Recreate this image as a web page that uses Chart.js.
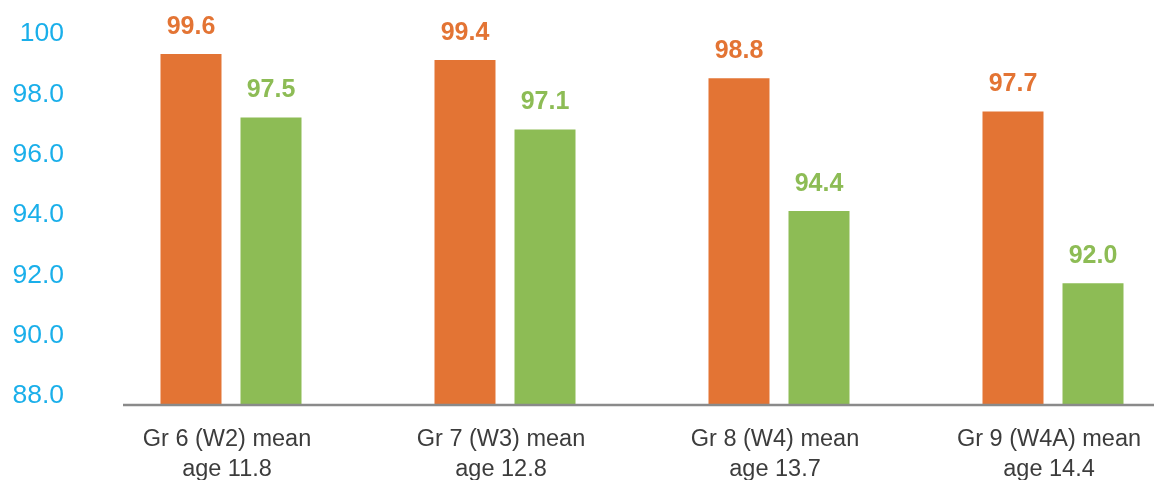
<!DOCTYPE html>
<html>
<head>
<meta charset="utf-8">
<script src="https://cdn.jsdelivr.net/npm/chart.js@4.4.1/dist/chart.umd.min.js"></script>
<style>
  html, body { margin: 0; padding: 0; background: #ffffff; overflow: hidden; }
  #frame { width: 1154px; height: 480px; overflow: hidden; position: relative; }
  #wrap { width: 1192px; height: 480px; position: absolute; left: 0; top: 0; }
</style>
</head>
<body>
<div id="frame"><div id="wrap"><canvas id="chart"></canvas></div></div>
<script>
// Grade groups (wave) with mean age
const categories = [
  ['Gr 6 (W2) mean', 'age 11.8'],
  ['Gr 7 (W3) mean', 'age 12.8'],
  ['Gr 8 (W4) mean', 'age 13.7'],
  ['Gr 9 (W4A) mean', 'age 14.4']
];
const seriesOrange = [99.6, 99.4, 98.8, 97.7];
const seriesGreen = [97.5, 97.1, 94.4, 92.0];
const yTicks = [88, 90, 92, 94, 96, 98, 100];

const ORANGE = '#E37434';
const GREEN = '#8DBC55';
const BLUE = '#1AAFEA';
const FONT = "'Liberation Sans', Arial, sans-serif";

// Value labels above every bar
const valueLabels = {
  id: 'valueLabels',
  afterDatasetsDraw(chart) {
    const ctx = chart.ctx;
    ctx.save();
    ctx.font = 'bold 25px ' + FONT;
    ctx.textAlign = 'center';
    ctx.textBaseline = 'alphabetic';
    chart.data.datasets.forEach((ds, di) => {
      const meta = chart.getDatasetMeta(di);
      meta.data.forEach((bar, i) => {
        ctx.fillStyle = ds.backgroundColor;
        ctx.fillText(ds.data[i].toFixed(1), bar.x, bar.y - 20);
      });
    });
    ctx.restore();
  }
};

// Baseline under the bars
const baseLine = {
  id: 'baseLine',
  afterDatasetsDraw(chart) {
    const { ctx, chartArea, scales } = chart;
    const y = scales.y.getPixelForValue(yTicks[0]);
    ctx.save();
    ctx.strokeStyle = '#8a8a8a';
    ctx.lineWidth = 2.5;
    ctx.beginPath();
    ctx.moveTo(chartArea.left + 29, y + 1);
    ctx.lineTo(chart.width, y + 1);
    ctx.stroke();
    ctx.restore();
  }
};

new Chart(document.getElementById('chart'), {
  type: 'bar',
  data: {
    labels: categories,
    datasets: [
      { data: seriesOrange, backgroundColor: ORANGE, barPercentage: 0.7625, categoryPercentage: 0.584 },
      { data: seriesGreen, backgroundColor: GREEN, barPercentage: 0.7625, categoryPercentage: 0.584 }
    ]
  },
  options: {
    responsive: true,
    maintainAspectRatio: false,
    animation: false,
    layout: { padding: { top: 42, right: 2, left: 0, bottom: 0 } },
    plugins: {
      legend: { display: false },
      tooltip: { enabled: false }
    },
    scales: {
      x: {
        grid: { display: false, drawTicks: false },
        border: { display: false },
        ticks: {
          color: '#3c3c3c',
          font: { family: FONT, size: 23.5, lineHeight: 1.3 },
          padding: 20,
          labelOffset: -4,
          maxRotation: 0,
          autoSkip: false
        },
        afterFit(scale) { scale.height = 76; }
      },
      y: {
        min: yTicks[0],
        max: yTicks[yTicks.length - 1],
        grid: { display: false, drawTicks: false },
        border: { display: false },
        afterBuildTicks(scale) { scale.ticks = yTicks.map(v => ({ value: v })); },
        ticks: {
          color: BLUE,
          font: { family: FONT, size: 26.5 },
          padding: 30,
          labelOffset: -8,
          callback: v => (v >= 100 ? String(v) : v.toFixed(1))
        },
        afterFit(scale) {
          scale.width = 94;
          // keep the plot top/bottom governed by the layout padding only
          scale.paddingTop = 0;
          scale.paddingBottom = 0;
        }
      }
    }
  },
  plugins: [valueLabels, baseLine]
});
</script>
</body>
</html>
